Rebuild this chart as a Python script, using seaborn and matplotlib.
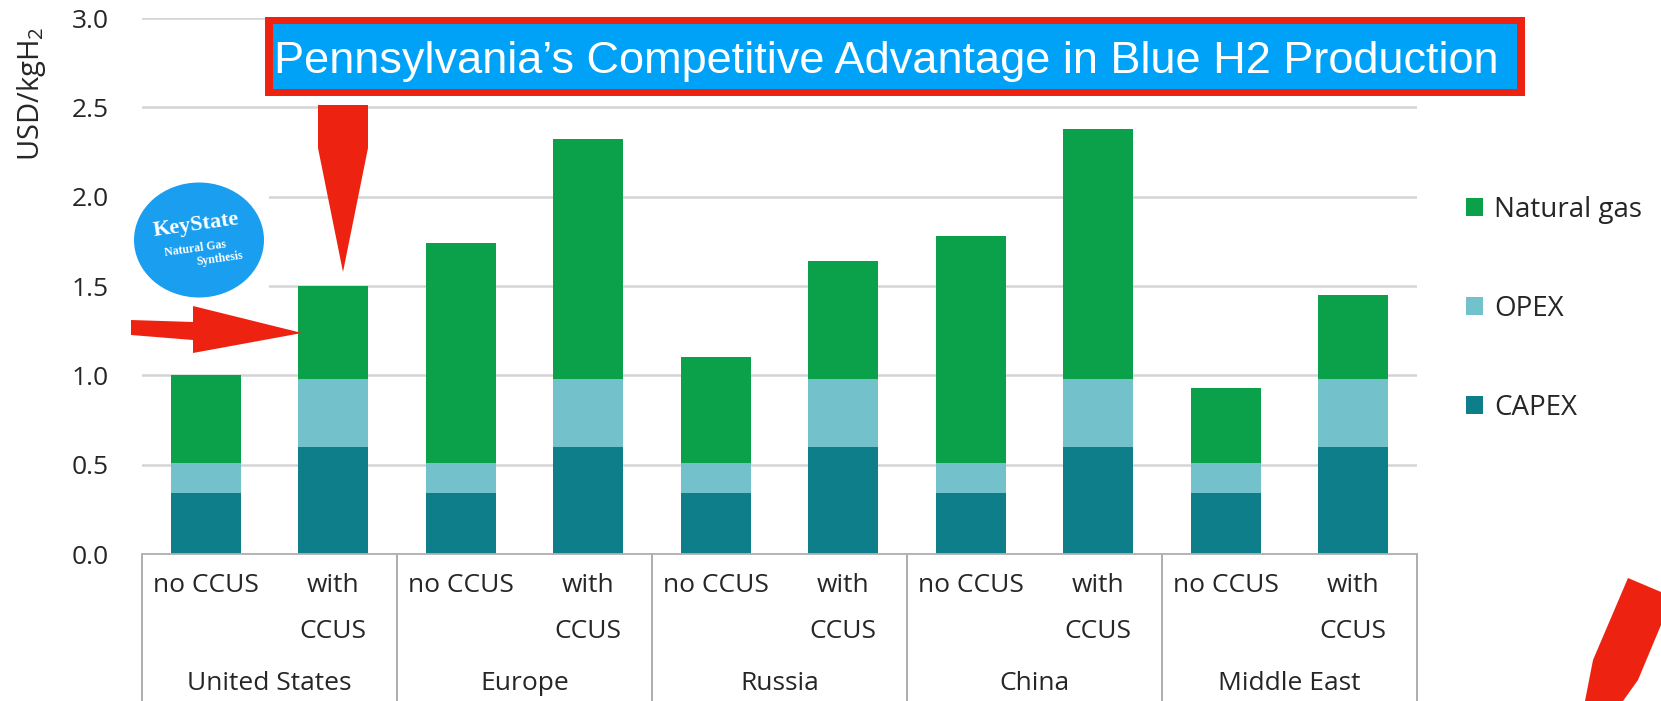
import matplotlib
matplotlib.use("Agg")
import matplotlib.pyplot as plt
import matplotlib.transforms as mtransforms
from matplotlib.patches import Rectangle, Ellipse, Polygon
import seaborn as sns
import pandas as pd

# data (USD/kgH2)
regions = ["United States", "Europe", "Russia", "China", "Middle East"]
cases = ["no CCUS", "with CCUS"]
capex = [0.34, 0.60, 0.34, 0.60, 0.34, 0.60, 0.34, 0.60, 0.34, 0.60]
opex = [0.17, 0.38, 0.17, 0.38, 0.17, 0.38, 0.17, 0.38, 0.17, 0.38]
natural_gas = [0.49, 0.52, 1.23, 1.34, 0.59, 0.66, 1.27, 1.40, 0.42, 0.47]
yticks = [0.0, 0.5, 1.0, 1.5, 2.0, 2.5, 3.0]

rows = []
for i, reg in enumerate(regions):
    for j, case in enumerate(cases):
        k = 2 * i + j
        rows.append({"key": f"{reg}|{case}", "region": reg, "case": case,
                     "capex": capex[k], "opex": opex[k], "gas": natural_gas[k]})
df = pd.DataFrame(rows)
df["lvl_opex"] = df["capex"] + df["opex"]
df["lvl_total"] = df["lvl_opex"] + df["gas"]
order = list(df["key"])

sns.set_theme(style="white")
plt.rcParams["font.family"] = ["Open Sans", "DejaVu Sans"]
plt.rcParams["mathtext.fontset"] = "custom"
plt.rcParams["mathtext.rm"] = "Open Sans"
plt.rcParams["mathtext.it"] = "Open Sans"

W, H = 1661, 701
fig = plt.figure(figsize=(W / 100, H / 100), dpi=100)
ax = fig.add_axes([142 / W, 1 - 554 / H, 1275 / W, 536 / H])

c_gas, c_opex, c_capex = "#0ba04a", "#73c2cb", "#0f7e8b"
txt = "#262626"

# stacked bars drawn as cumulative layers
bar_kw = dict(data=df, x="key", order=order, width=0.55, saturation=1, linewidth=0, ax=ax)
sns.barplot(y="lvl_total", color=c_gas, label="Natural gas", **bar_kw)
sns.barplot(y="lvl_opex", color=c_opex, label="OPEX", **bar_kw)
sns.barplot(y="capex", color=c_capex, label="CAPEX", **bar_kw)
handles, labels = ax.get_legend_handles_labels()
if ax.get_legend() is not None:
    ax.get_legend().remove()

ax.set_xlim(-0.5, 9.5)
ax.set_ylim(0, 3.0)
ax.set_yticks(yticks)
ax.set_yticklabels([f"{v:.1f}" for v in yticks], fontsize=19, color=txt)
ax.set_xticks([])
ax.set_xlabel("")
ax.set_ylabel("")
ax.tick_params(axis="y", length=0, pad=24)
ax.yaxis.grid(True, color="#d4d4d4", lw=1.8)
ax.set_axisbelow(True)
for s in ["top", "right", "left"]:
    ax.spines[s].set_visible(False)
ax.spines["bottom"].set_color("#b0b0b0")
ax.spines["bottom"].set_linewidth(1.3)

# category table under the axis
trans = mtransforms.blended_transform_factory(ax.transData, fig.transFigure)
for xs in [-0.5, 1.5, 3.5, 5.5, 7.5, 9.5]:
    ax.plot([xs, xs], [1 - 554 / H, 0], color="#a0a0a0", lw=1.2, transform=trans,
            clip_on=False)
for k in range(len(order)):
    if k % 2 == 0:
        ax.text(k, 1 - 586 / H, "no CCUS", transform=trans, ha="center", va="center",
                fontsize=19, color=txt)
    else:
        ax.text(k, 1 - 586 / H, "with", transform=trans, ha="center", va="center",
                fontsize=19, color=txt)
        ax.text(k, 1 - 632 / H, "CCUS", transform=trans, ha="center", va="center",
                fontsize=19, color=txt)
for i, reg in enumerate(regions):
    ax.text(2 * i + 0.5, 1 - 683 / H, reg, transform=trans, ha="center", va="center",
            fontsize=19, color=txt)

fig.text(31 / W, 1 - 94 / H, r"USD/kgH$_2$", rotation=90, ha="center", va="center",
         fontsize=21, color=txt)

fig.legend(handles, labels, loc="upper left", bbox_to_anchor=(1466 / W, 1 - 196 / H),
           frameon=False, fontsize=20, handlelength=0.6, handleheight=0.6,
           handletextpad=0.4, labelspacing=2.55, borderpad=0, borderaxespad=0,
           labelcolor=txt)


def fp(x, y):
    return (x / W, 1 - y / H)


# title banner
fig.add_artist(Rectangle(fp(265, 96), 1260 / W, 79 / H, transform=fig.transFigure,
                         facecolor="#ee2211", edgecolor="none"))
fig.add_artist(Rectangle(fp(273, 89), 1244 / W, 65 / H, transform=fig.transFigure,
                         facecolor="#00a2f8", edgecolor="none"))
fig.text(886 / W, 1 - 73 / H, "Pennsylvania’s Competitive Advantage in Blue H2 Production",
         ha="center", va="baseline", fontsize=32.5, color="white",
         family=["Liberation Sans", "DejaVu Sans"])

# logo with a white patch hiding the grid
fig.add_artist(Rectangle(fp(142, 300), 127 / W, 180 / H, transform=fig.transFigure,
                         facecolor="white", edgecolor="none"))
fig.add_artist(Ellipse(fp(199, 240), 130 / W, 115 / H, transform=fig.transFigure,
                       facecolor="#1a9ff0", edgecolor="none"))
fig.text(196 / W, 1 - 225 / H, "KeyState", rotation=8, ha="center", va="center",
         fontsize=16, fontweight="bold", color="white",
         family=["Liberation Serif", "DejaVu Serif"])
fig.text(195 / W, 1 - 249 / H, "Natural Gas", rotation=8, ha="center", va="center",
         fontsize=8.5, fontweight="bold", color="white",
         family=["Liberation Serif", "DejaVu Serif"])
fig.text(220 / W, 1 - 259 / H, "Synthesis", rotation=8, ha="center", va="center",
         fontsize=8.5, fontweight="bold", color="white",
         family=["Liberation Serif", "DejaVu Serif"])

# red arrows
red = "#ee2211"
arrows = [
    [(318, 105), (368, 105), (368, 148), (343, 272), (318, 148)],
    [(131, 320), (193, 322), (193, 306), (302, 333), (193, 353), (193, 340), (131, 335)],
    [(1628, 578), (1661, 592), (1661, 625), (1638, 680), (1623, 701), (1585, 701),
     (1593, 660)],
]
for pts in arrows:
    fig.add_artist(Polygon([fp(x, y) for x, y in pts], closed=True,
                           transform=fig.transFigure, facecolor=red, edgecolor="none"))

fig.savefig("out.png", dpi=100)
